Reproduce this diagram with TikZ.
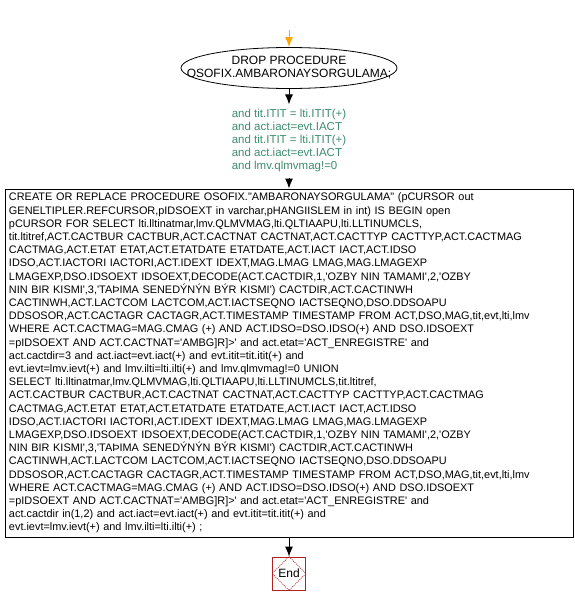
\documentclass[tikz,border=0pt]{standalone}
\usepackage{fontspec}
\newfontfamily\arialfont{Liberation Sans}
\usetikzlibrary{shapes.geometric,arrows.meta}
\definecolor{startorange}{RGB}{255,165,0}
\definecolor{condgreen}{RGB}{60,140,110}
\definecolor{endred}{RGB}{178,34,34}
\newcommand\zbox[1]{\makebox[0pt]{#1}}
\tikzset{into/.style={line width=1pt,{Latex[length=10pt,width=8pt]}-}}
\tikzset{procname/.style={ellipse,draw,line width=0.8pt,minimum width=216pt,minimum height=41pt,inner sep=0pt,align=center,font=\arialfont\fontsize{12}{13}\selectfont}}
\tikzset{cond/.style={text=condgreen,align=left,inner sep=5pt,font=\arialfont\fontsize{11.5}{13}\selectfont}}
\tikzset{sqlbox/.style={rectangle,draw,line width=0.8pt,text width=560pt,inner sep=4pt,align=left,font=\arialfont\fontsize{10.9}{13.2}\selectfont}}
\tikzset{endbox/.style={rectangle,draw=endred,line width=0.8pt,minimum size=33pt,inner sep=0pt,font=\arialfont\fontsize{12}{13}\selectfont}}

\begin{document}
\begin{tikzpicture}
  \useasboundingbox (0,0) rectangle (574pt,-604pt);
  \node[procname] (drop) at (289pt,-68pt) {\zbox{DROP PROCEDURE}\\\zbox{OSOFIX.AMBARONAYSORGULAMA;}};
  \path (drop.north) ++(0,17pt) coordinate (start);
  \draw[into, startorange, -{Latex[length=10pt,width=8pt]}] (start) -- (drop);
  \node[cond] (cond) [node distance=73pt, below of=drop] {and tit.ITIT = lti.ITIT(+)\\
    and act.iact=evt.IACT\\and tit.ITIT = lti.ITIT(+)\\and act.iact=evt.IACT\\
    and lmv.qlmvmag!=0} edge[into] (drop);
  \node[sqlbox] (sql) [node distance=295pt, below of=drop] {%
    CREATE OR REPLACE PROCEDURE OSOFIX."AMBARONAYSORGULAMA" (pCURSOR out\\
    GENELTIPLER.REFCURSOR,pIDSOEXT in varchar,pHANGIISLEM in int) IS BEGIN open\\
    pCURSOR FOR SELECT lti.lltinatmar,lmv.QLMVMAG,lti.QLTIAAPU,lti.LLTINUMCLS,\\
    tit.ltitref,ACT.CACTBUR CACTBUR,ACT.CACTNAT CACTNAT,ACT.CACTTYP CACTTYP,ACT.CACTMAG\\
    CACTMAG,ACT.ETAT ETAT,ACT.ETATDATE ETATDATE,ACT.IACT IACT,ACT.IDSO\\
    IDSO,ACT.IACTORI IACTORI,ACT.IDEXT IDEXT,MAG.LMAG LMAG,MAG.LMAGEXP\\
    LMAGEXP,DSO.IDSOEXT IDSOEXT,DECODE(ACT.CACTDIR,1,'OZBY NIN TAMAMI',2,'OZBY\\
    NIN BIR KISMI',3,'TAÞIMA SENEDÝNÝN BÝR KISMI') CACTDIR,ACT.CACTINWH\\
    CACTINWH,ACT.LACTCOM LACTCOM,ACT.IACTSEQNO IACTSEQNO,DSO.DDSOAPU\\
    DDSOSOR,ACT.CACTAGR CACTAGR,ACT.TIMESTAMP TIMESTAMP FROM ACT,DSO,MAG,tit,evt,lti,lmv\\
    WHERE ACT.CACTMAG=MAG.CMAG (+) AND ACT.IDSO=DSO.IDSO(+) AND DSO.IDSOEXT\\
    =pIDSOEXT AND ACT.CACTNAT='AMBG]R]>' and act.etat='ACT\_ENREGISTRE' and\\
    act.cactdir=3 and act.iact=evt.iact(+) and evt.itit=tit.itit(+) and\\
    evt.ievt=lmv.ievt(+) and lmv.ilti=lti.ilti(+) and lmv.qlmvmag!=0 UNION\\
    SELECT lti.lltinatmar,lmv.QLMVMAG,lti.QLTIAAPU,lti.LLTINUMCLS,tit.ltitref,\\
    ACT.CACTBUR CACTBUR,ACT.CACTNAT CACTNAT,ACT.CACTTYP CACTTYP,ACT.CACTMAG\\
    CACTMAG,ACT.ETAT ETAT,ACT.ETATDATE ETATDATE,ACT.IACT IACT,ACT.IDSO\\
    IDSO,ACT.IACTORI IACTORI,ACT.IDEXT IDEXT,MAG.LMAG LMAG,MAG.LMAGEXP\\
    LMAGEXP,DSO.IDSOEXT IDSOEXT,DECODE(ACT.CACTDIR,1,'OZBY NIN TAMAMI',2,'OZBY\\
    NIN BIR KISMI',3,'TAÞIMA SENEDÝNÝN BÝR KISMI') CACTDIR,ACT.CACTINWH\\
    CACTINWH,ACT.LACTCOM LACTCOM,ACT.IACTSEQNO IACTSEQNO,DSO.DDSOAPU\\
    DDSOSOR,ACT.CACTAGR CACTAGR,ACT.TIMESTAMP TIMESTAMP FROM ACT,DSO,MAG,tit,evt,lti,lmv\\
    WHERE ACT.CACTMAG=MAG.CMAG (+) AND ACT.IDSO=DSO.IDSO(+) AND DSO.IDSOEXT\\
    =pIDSOEXT AND ACT.CACTNAT='AMBG]R]>' and act.etat='ACT\_ENREGISTRE' and\\
    act.cactdir in(1,2) and act.iact=evt.iact(+) and evt.itit=tit.itit(+) and\\
    evt.ievt=lmv.ievt(+) and lmv.ilti=lti.ilti(+) ;} edge[into] (cond);
  \node[endbox] (end) [node distance=210.5pt, below of=sql] {End} edge[into] (sql);
  % dotted diamond inside the end box
  \draw[endred, line width=0.6pt, dash pattern=on 1pt off 1pt] (end.north) -- (end.east) -- (end.south) -- (end.west) -- cycle;
\end{tikzpicture}
\end{document}
